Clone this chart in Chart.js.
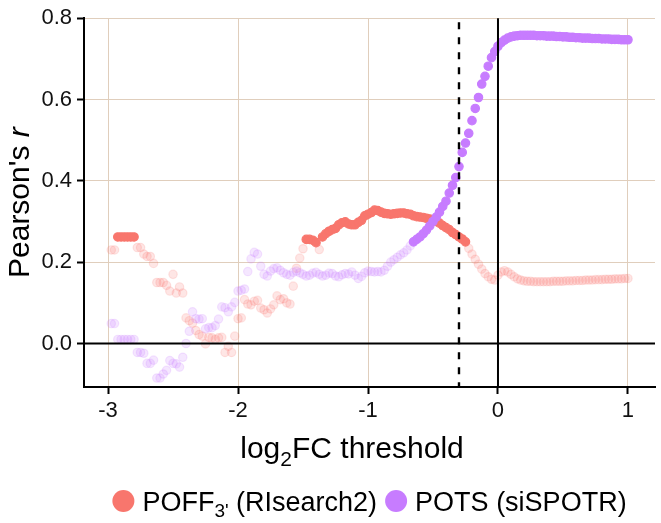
<!DOCTYPE html>
<html>
<head>
<meta charset="utf-8">
<script src="https://cdn.jsdelivr.net/npm/chart.js@4/dist/chart.umd.min.js"></script>
<style>
  html, body { margin: 0; padding: 0; background: #fff; }
  #wrap { width: 661px; height: 523px; }
</style>
</head>
<body>
<div id="wrap"><canvas id="chart" width="661" height="523"></canvas></div>
<script>
// log2FC thresholds
const thresholds = [
  -2.975, -2.95, -2.925, -2.9, -2.875, -2.85, -2.825, -2.8, -2.775, -2.75,
  -2.725, -2.7, -2.675, -2.65, -2.625, -2.6, -2.575, -2.55, -2.525, -2.5,
  -2.475, -2.45, -2.425, -2.4, -2.375, -2.35, -2.325, -2.3, -2.275, -2.25,
  -2.225, -2.2, -2.175, -2.15, -2.125, -2.1, -2.075, -2.05, -2.025, -2.0,
  -1.975, -1.95, -1.925, -1.9, -1.875, -1.85, -1.825, -1.8, -1.775, -1.75,
  -1.725, -1.7, -1.675, -1.65, -1.625, -1.6, -1.575, -1.55, -1.525, -1.5,
  -1.475, -1.45, -1.425, -1.4, -1.375, -1.35, -1.325, -1.3, -1.275, -1.25,
  -1.225, -1.2, -1.175, -1.15, -1.125, -1.1, -1.075, -1.05, -1.025, -1.0,
  -0.975, -0.95, -0.925, -0.9, -0.875, -0.85, -0.825, -0.8, -0.775, -0.75,
  -0.725, -0.7, -0.675, -0.65, -0.625, -0.6, -0.575, -0.55, -0.525, -0.5,
  -0.475, -0.45, -0.425, -0.4, -0.375, -0.35, -0.325, -0.3, -0.275, -0.25,
  -0.225, -0.2, -0.175, -0.15, -0.125, -0.1, -0.075, -0.05, -0.025, 0,
  0.025, 0.05, 0.075, 0.1, 0.125, 0.15, 0.175, 0.2, 0.225, 0.25,
  0.275, 0.3, 0.325, 0.35, 0.375, 0.4, 0.425, 0.45, 0.475, 0.5,
  0.525, 0.55, 0.575, 0.6, 0.625, 0.65, 0.675, 0.7, 0.725, 0.75,
  0.775, 0.8, 0.825, 0.85, 0.875, 0.9, 0.925, 0.95, 0.975, 1.0
];

// Pearson's r, POFF3' (RIsearch2)
const poffR = [
  0.23, 0.23, 0.262, 0.262, 0.262, 0.262, 0.262, 0.262, 0.236, 0.236,
  0.22, 0.214, 0.214, 0.197, 0.15, 0.15, 0.15, 0.143, 0.129, 0.17,
  0.124, 0.139, 0.124, 0.063, 0.056, 0.05, 0.032, 0.022, 0.018, -0.001,
  0.015, 0.014, 0.01, 0.014, 0.015, -0.022, -0.007, -0.022, 0.018, 0.061,
  0.063, 0.108, 0.097, 0.095, 0.104, 0.106, 0.087, 0.083, 0.075, 0.085,
  0.095, 0.117, 0.108, 0.11, 0.1, 0.097, 0.141, 0.185, 0.21, 0.233,
  0.256, 0.256, 0.254, 0.248, 0.231, 0.262, 0.27, 0.276, 0.28, 0.283,
  0.292, 0.297, 0.299, 0.294, 0.292, 0.292, 0.298, 0.303, 0.314, 0.318,
  0.322, 0.328, 0.327, 0.323, 0.32, 0.319, 0.318, 0.319, 0.32, 0.321,
  0.321, 0.319, 0.318, 0.314, 0.312, 0.311, 0.31, 0.308, 0.306, 0.303,
  0.3, 0.296, 0.29, 0.285, 0.28, 0.273, 0.268, 0.262, 0.257, 0.25,
  0.234, 0.22, 0.207, 0.195, 0.183, 0.172, 0.164, 0.158, 0.156, 0.168,
  0.176, 0.179, 0.176, 0.17, 0.164, 0.159, 0.156, 0.154, 0.153, 0.153,
  0.152, 0.152, 0.152, 0.152, 0.152, 0.152, 0.153, 0.153, 0.153, 0.153,
  0.154, 0.154, 0.154, 0.155, 0.155, 0.155, 0.156, 0.156, 0.156, 0.157,
  0.157, 0.157, 0.158, 0.158, 0.158, 0.159, 0.159, 0.159, 0.16, 0.16
];
// 1 = significant (drawn opaque)
const poffSig = [
  0, 0, 1, 1, 1, 1, 1, 1, 0, 0,
  0, 0, 0, 0, 0, 0, 0, 0, 0, 0,
  0, 0, 0, 0, 0, 0, 0, 0, 0, 0,
  0, 0, 0, 0, 0, 0, 0, 0, 0, 0,
  0, 0, 0, 0, 0, 0, 0, 0, 0, 0,
  0, 0, 0, 0, 0, 0, 0, 0, 0, 0,
  1, 1, 1, 1, 0, 1, 1, 1, 1, 1,
  1, 1, 1, 1, 1, 1, 1, 1, 1, 1,
  1, 1, 1, 1, 1, 1, 1, 1, 1, 1,
  1, 1, 1, 1, 1, 1, 1, 1, 1, 1,
  1, 1, 1, 1, 1, 1, 1, 1, 1, 1,
  0, 0, 0, 0, 0, 0, 0, 0, 0, 0,
  0, 0, 0, 0, 0, 0, 0, 0, 0, 0,
  0, 0, 0, 0, 0, 0, 0, 0, 0, 0,
  0, 0, 0, 0, 0, 0, 0, 0, 0, 0,
  0, 0, 0, 0, 0, 0, 0, 0, 0, 0
];

// Pearson's r, POTS (siSPOTR)
const potsR = [
  0.049, 0.049, 0.01, 0.01, 0.01, 0.01, 0.01, 0.01, -0.022, -0.022,
  -0.024, -0.049, -0.049, -0.041, -0.085, -0.085, -0.075, -0.066, -0.042, -0.049,
  -0.05, -0.058, -0.034, 0.0, 0.03, 0.078, 0.061, 0.06, 0.061, 0.036,
  0.039, 0.039, 0.044, 0.06, 0.09, 0.088, 0.078, 0.09, 0.101, 0.129,
  0.131, 0.134, 0.177, 0.208, 0.224, 0.22, 0.19, 0.17, 0.166, 0.178,
  0.184, 0.186, 0.18, 0.174, 0.17, 0.168, 0.175, 0.178, 0.174, 0.17,
  0.166, 0.168, 0.173, 0.175, 0.17, 0.166, 0.168, 0.173, 0.172, 0.166,
  0.164, 0.169, 0.172, 0.171, 0.176, 0.168, 0.16, 0.165, 0.174, 0.178,
  0.177, 0.176, 0.177, 0.176, 0.18, 0.19, 0.2, 0.206, 0.212, 0.218,
  0.223, 0.23, 0.24, 0.25, 0.256, 0.262, 0.27, 0.279, 0.289, 0.3,
  0.311, 0.323, 0.337, 0.35, 0.37, 0.389, 0.408, 0.435, 0.47, 0.493,
  0.517, 0.548, 0.578, 0.605, 0.638, 0.657, 0.682, 0.703, 0.718, 0.731,
  0.74, 0.746, 0.751, 0.754, 0.756, 0.757, 0.758, 0.758, 0.758, 0.758,
  0.758, 0.757, 0.757, 0.757, 0.756, 0.756, 0.756, 0.755, 0.755, 0.754,
  0.754, 0.753, 0.753, 0.752, 0.752, 0.751, 0.751, 0.751, 0.75, 0.75,
  0.75, 0.749, 0.749, 0.749, 0.748, 0.748, 0.748, 0.747, 0.747, 0.747
];
const potsSig = [
  0, 0, 0, 0, 0, 0, 0, 0, 0, 0,
  0, 0, 0, 0, 0, 0, 0, 0, 0, 0,
  0, 0, 0, 0, 0, 0, 0, 0, 0, 0,
  0, 0, 0, 0, 0, 0, 0, 0, 0, 0,
  0, 0, 0, 0, 0, 0, 0, 0, 0, 0,
  0, 0, 0, 0, 0, 0, 0, 0, 0, 0,
  0, 0, 0, 0, 0, 0, 0, 0, 0, 0,
  0, 0, 0, 0, 0, 0, 0, 0, 0, 0,
  0, 0, 0, 0, 0, 0, 0, 0, 0, 0,
  0, 0, 0, 1, 1, 1, 1, 1, 1, 1,
  1, 1, 1, 1, 1, 1, 1, 1, 1, 1,
  1, 1, 1, 1, 1, 1, 1, 1, 1, 1,
  1, 1, 1, 1, 1, 1, 1, 1, 1, 1,
  1, 1, 1, 1, 1, 1, 1, 1, 1, 1,
  1, 1, 1, 1, 1, 1, 1, 1, 1, 1,
  1, 1, 1, 1, 1, 1, 1, 1, 1, 1
];

const xTicks = [-3, -2, -1, 0, 1];
const yTicks = [0, 0.2, 0.4, 0.6, 0.8];
const cutoff = -0.3;

const RED = "248,118,109";
const PURPLE = "199,124,255";
const FONT = '"Liberation Sans", Arial, Helvetica, sans-serif';

function pick(values, sig, want) {
  const out = [];
  values.forEach((v, i) => { if (sig[i] === want) out.push({ x: thresholds[i], y: v }); });
  return out;
}

function pointSet(data, rgb, alpha, order) {
  const c = `rgba(${rgb},${alpha})`;
  return {
    data, order,
    backgroundColor: c, borderColor: c, borderWidth: 1.2,
    pointRadius: 4.2, pointHoverRadius: 4.2, showLine: false
  };
}

const refLines = {
  id: "refLines",
  afterDatasetsDraw(chart) {
    const { ctx, chartArea: a, scales: { x, y } } = chart;
    ctx.save();
    ctx.strokeStyle = "#000";
    ctx.lineWidth = 2;
    ctx.beginPath();
    ctx.moveTo(a.left, y.getPixelForValue(0));
    ctx.lineTo(a.right, y.getPixelForValue(0));
    ctx.moveTo(x.getPixelForValue(0), a.top);
    ctx.lineTo(x.getPixelForValue(0), a.bottom);
    ctx.stroke();
    ctx.setLineDash([7, 8]);
    ctx.lineWidth = 2.4;
    ctx.beginPath();
    ctx.moveTo(x.getPixelForValue(cutoff), a.top + 4);
    ctx.lineTo(x.getPixelForValue(cutoff), a.bottom);
    ctx.stroke();
    ctx.restore();
  }
};

function drawSub(ctx, parts, x, y) {
  // parts: [text, font, dy]
  let cx = x;
  parts.forEach(([t, f, dy]) => {
    ctx.font = f;
    ctx.fillText(t, cx, y + dy);
    cx += ctx.measureText(t).width;
  });
  return cx;
}

function partsWidth(ctx, parts) {
  let w = 0;
  parts.forEach(([t, f]) => { ctx.font = f; w += ctx.measureText(t).width; });
  return w;
}

const labels = {
  id: "labels",
  afterDraw(chart) {
    const { ctx, chartArea: a } = chart;
    const title = `30px ${FONT}`, titleSub = `21px ${FONT}`;
    const big = `27px ${FONT}`, small = `19px ${FONT}`;
    ctx.save();
    ctx.fillStyle = "#000";
    ctx.textBaseline = "alphabetic";
    ctx.textAlign = "left";

    // x title
    const xt = [["log", title, 0], ["2", titleSub, 8], ["FC threshold", title, 0]];
    drawSub(ctx, xt, 352 - partsWidth(ctx, xt) / 2, 458);

    // y title
    const yt = [["Pearson's ", title, 0], ["r", `italic 30px ${FONT}`, 0]];
    ctx.save();
    ctx.translate(29, (a.top + a.bottom) / 2);
    ctx.rotate(-Math.PI / 2);
    drawSub(ctx, yt, -partsWidth(ctx, yt) / 2, 0);
    ctx.restore();

    // legend
    const items = [
      { rgb: RED, parts: [["POFF", big, 0], ["3'", small, 6], [" (RIsearch2)", big, 0]] },
      { rgb: PURPLE, parts: [["POTS (siSPOTR)", big, 0]] }
    ];
    const r = 11, gap = 8, between = 8;
    let total = 0;
    items.forEach(it => { total += 2 * r + gap + partsWidth(ctx, it.parts); });
    total += between;
    let lx = (a.left + a.right) / 2 - total / 2;
    const ly = 501;
    items.forEach(it => {
      ctx.fillStyle = `rgb(${it.rgb})`;
      ctx.beginPath();
      ctx.arc(lx + r, ly, r, 0, Math.PI * 2);
      ctx.fill();
      ctx.fillStyle = "#000";
      lx = drawSub(ctx, it.parts, lx + 2 * r + gap, ly + 10) + between;
    });
    ctx.restore();
  }
};

new Chart(document.getElementById("chart"), {
  type: "scatter",
  data: {
    datasets: [
      pointSet(pick(potsR, potsSig, 1), PURPLE, 1, 1),
      pointSet(pick(poffR, poffSig, 1), RED, 1, 2),
      pointSet(pick(potsR, potsSig, 0), PURPLE, 0.18, 3),
      pointSet(pick(poffR, poffSig, 0), RED, 0.18, 4)
    ]
  },
  options: {
    responsive: false,
    animation: false,
    layout: { padding: { top: 14, right: 6, bottom: 0, left: 0 } },
    plugins: { legend: { display: false }, tooltip: { enabled: false } },
    scales: {
      x: {
        type: "linear", min: -3.185, max: 1.208,
        afterBuildTicks: s => { s.ticks = xTicks.map(v => ({ value: v })); },
        afterFit: s => { s.height = 136; },
        grid: { color: "rgb(224,206,188)", lineWidth: 1, tickColor: "#000", tickWidth: 2, tickLength: 7 },
        border: { color: "#000", width: 2 },
        ticks: { color: "#111", font: { family: FONT, size: 22 }, padding: 4, maxRotation: 0,
          callback: v => String(v) }
      },
      y: {
        min: -0.107, max: 0.8,
        afterBuildTicks: s => { s.ticks = yTicks.map(v => ({ value: v })); },
        afterFit: s => { s.width = 84; },
        grid: { color: "rgb(224,206,188)", lineWidth: 1, tickColor: "#000", tickWidth: 2, tickLength: 7 },
        border: { color: "#000", width: 2 },
        ticks: { color: "#111", font: { family: FONT, size: 22 }, padding: 5,
          callback: v => v.toFixed(1) }
      }
    }
  },
  plugins: [refLines, labels]
});
</script>
</body>
</html>
